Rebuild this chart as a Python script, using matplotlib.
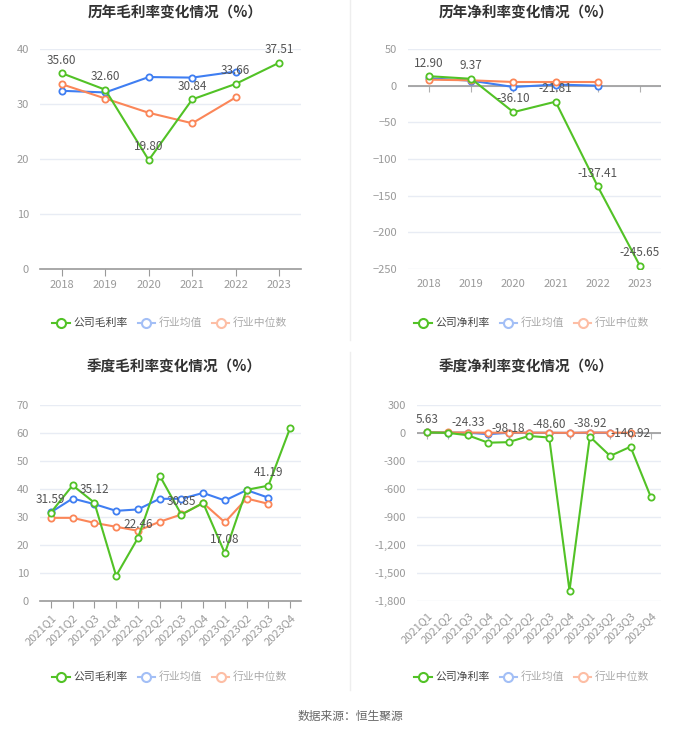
import matplotlib
matplotlib.use("Agg")
import matplotlib.pyplot as plt
from matplotlib.lines import Line2D
from matplotlib.ticker import FuncFormatter
import matplotlib.markers as mmarkers

plt.rcParams['font.family'] = ['Noto Sans CJK SC', 'DejaVu Sans']

# annual data
years = ['2018', '2019', '2020', '2021', '2022', '2023']
gross_company = [35.60, 32.60, 19.80, 30.84, 33.66, 37.51]
gross_avg = [32.4, 32.1, 34.9, 34.8, 35.9]
gross_median = [33.6, 31.0, 28.4, 26.5, 31.2]

net_company = [12.90, 9.37, -36.10, -21.81, -137.41, -245.65]
net_avg = [10.0, 6.8, -1.8, 1.5, 0.0]
net_median = [8.2, 7.3, 5.0, 5.0, 5.0]

# quarterly data
quarters = ['2021Q1', '2021Q2', '2021Q3', '2021Q4', '2022Q1', '2022Q2',
            '2022Q3', '2022Q4', '2023Q1', '2023Q2', '2023Q3', '2023Q4']
qgross_company = [31.59, 41.3, 35.12, 9.0, 22.46, 44.8, 30.85, 35.0, 17.08, 39.7, 41.19, 61.8]
qgross_avg = [31.7, 36.6, 34.6, 32.2, 32.7, 36.5, 36.5, 38.6, 35.9, 39.6, 36.9]
qgross_median = [29.7, 29.7, 27.9, 26.5, 25.1, 28.3, 30.9, 35.0, 28.1, 36.6, 34.7]

qnet_company = [5.63, 2.0, -24.33, -104.0, -98.18, -32.0, -48.60, -1689.0, -38.92, -246.0, -146.92, -686.0]
qnet_avg = [8.0, 5.0, 3.0, -12.0, 2.0, 3.0, 2.0, 1.0, 4.0, 3.0]
qnet_median = [7.0, 6.0, 5.0, 3.0, 4.0, 4.0, 3.0, 2.0, 5.0, 4.0, 3.0]

GREEN = '#52c226'
BLUE = '#3f7ef2'
ORANGE = '#fb8658'
GRID = '#e8ecf4'
AXIS = '#9a9a9a'

W, H = 700, 733
fig = plt.figure(figsize=(7, 7.33), dpi=100)


def box(x0, x1, ytop, ybot):
    return [x0 / W, 1 - ybot / H, (x1 - x0) / W, (ybot - ytop) / H]


def draw(ax, cats, comp, avg, med, ylim, yticks, label_every, zero_axis=False, rotate=False, fmt=None):
    n = len(cats)
    x = list(range(n))
    ax.plot(x, comp, color=GREEN, lw=1.5, marker='o', ms=4.5, mfc='white', mew=1.3, zorder=4)
    ax.plot(x[:len(avg)], avg, color=BLUE, lw=1.5, marker='o', ms=4.5, mfc='white', mew=1.3, zorder=3)
    ax.plot(x[:len(med)], med, color=ORANGE, lw=1.5, marker='o', ms=4.5, mfc='white', mew=1.3, zorder=3)
    for i in range(0, n, label_every):
        ax.annotate(f'{comp[i]:.2f}', (x[i], comp[i]), xytext=(0, 9.5), textcoords='offset points',
                    ha='center', va='center', fontsize=8.5, color='#555555', zorder=5)
    ax.set_xlim(-0.5, n - 0.5)
    ax.set_ylim(*ylim)
    ax.set_yticks(yticks)
    if fmt:
        ax.yaxis.set_major_formatter(FuncFormatter(fmt))
    ax.set_xticks(x)
    if rotate:
        ax.set_xticklabels(cats, rotation=45, ha='right', rotation_mode='anchor')
    else:
        ax.set_xticklabels(cats)
    ax.grid(axis='y', color=GRID, lw=1)
    ax.set_axisbelow(True)
    for s in ['top', 'right', 'left']:
        ax.spines[s].set_visible(False)
    ax.tick_params(axis='y', length=0, labelsize=8, labelcolor='#999999', pad=8)
    if zero_axis:
        ax.spines['bottom'].set_visible(False)
        ax.axhline(0, color=AXIS, lw=1.2, zorder=2)
        ax.plot(x, [0] * n, ls='none', marker=mmarkers.TICKDOWN, ms=4, mew=0.8, color='#b0b0b0', zorder=1)
        ax.tick_params(axis='x', length=0, labelsize=8, labelcolor='#999999', pad=7)
    else:
        ax.spines['bottom'].set_color(AXIS)
        ax.spines['bottom'].set_linewidth(1.2)
        ax.tick_params(axis='x', length=5, color=AXIS, labelsize=8, labelcolor='#999999', pad=3)


def legend(xc, yc, first):
    handles = [
        Line2D([], [], color=GREEN, lw=1.5, marker='o', ms=6.5, mfc='white', mew=1.5),
        Line2D([], [], color='#a3bff6', lw=1.5, marker='o', ms=6.5, mfc='white', mew=1.5),
        Line2D([], [], color='#fdbea5', lw=1.5, marker='o', ms=6.5, mfc='white', mew=1.5),
    ]
    lg = fig.legend(handles, [first, '行业均值', '行业中位数'], loc='center',
                    bbox_to_anchor=(xc / W, 1 - yc / H), ncol=3, frameon=False,
                    fontsize=7.8, handlelength=1.6, handletextpad=0.35, columnspacing=0.9)
    cols = ['#444444', '#aaaaaa', '#aaaaaa']
    for t, c in zip(lg.get_texts(), cols):
        t.set_color(c)


ax1 = fig.add_axes(box(40, 301, 49, 269))
draw(ax1, years, gross_company, gross_avg, gross_median, (0, 40), [0, 10, 20, 30, 40], 1)

ax2 = fig.add_axes(box(408, 661, 49, 269))
draw(ax2, years, net_company, net_avg, net_median, (-250, 50), [-250, -200, -150, -100, -50, 0, 50], 1,
     zero_axis=True)

ax3 = fig.add_axes(box(40, 301, 405, 601))
draw(ax3, quarters, qgross_company, qgross_avg, qgross_median, (0, 70), [0, 10, 20, 30, 40, 50, 60, 70], 2,
     rotate=True)

ax4 = fig.add_axes(box(417, 661, 405, 601))
draw(ax4, quarters, qnet_company, qnet_avg, qnet_median, (-1800, 300),
     [-1800, -1500, -1200, -900, -600, -300, 0, 300], 2, zero_axis=True, rotate=True,
     fmt=lambda v, p: f'{int(v):,}')

titles = [('历年毛利率变化情况（%）', 175, 13), ('历年净利率变化情况（%）', 526, 13),
          ('季度毛利率变化情况（%）', 174, 367), ('季度净利率变化情况（%）', 526, 367)]
for t, xc, yc in titles:
    fig.text(xc / W, 1 - yc / H, t, ha='center', va='center', fontsize=10.5, fontweight='bold', color='#333333')

legend(170, 323, '公司毛利率')
legend(532, 323, '公司净利率')
legend(170, 677, '公司毛利率')
legend(532, 677, '公司净利率')

# divider between columns
fig.add_artist(Line2D([350 / W, 350 / W], [1 - 0 / H, 1 - 340 / H], color='#eeeeee', lw=1))
fig.add_artist(Line2D([350 / W, 350 / W], [1 - 352 / H, 1 - 690 / H], color='#eeeeee', lw=1))

fig.text(0.5, 1 - 716 / H, '数据来源：恒生聚源', ha='center', va='center', fontsize=8.5, color='#666666')

fig.savefig('out.png', dpi=100, facecolor='white')
